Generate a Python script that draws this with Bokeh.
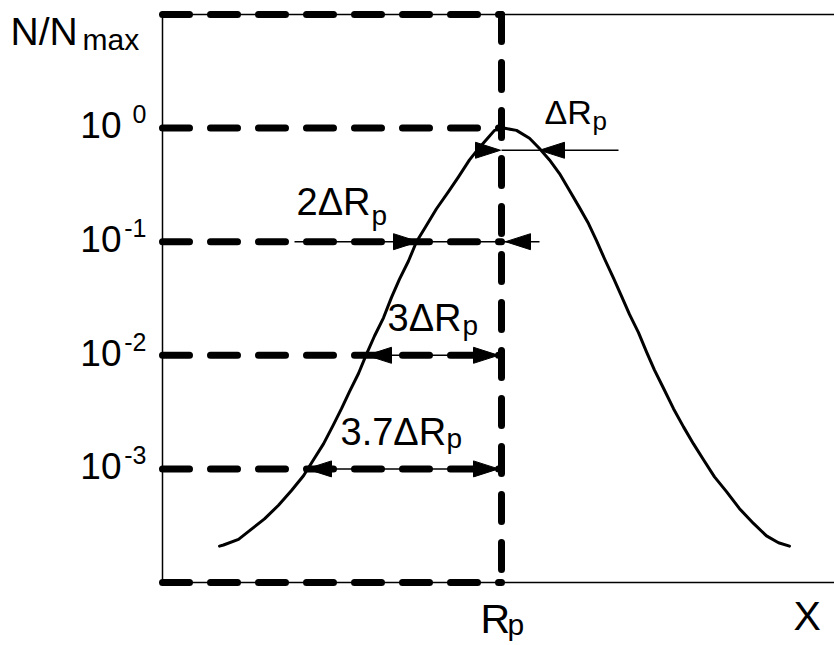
from bokeh.plotting import figure
from bokeh.models import Range1d
from bokeh.core.properties import value
from bokeh.embed import file_html
from bokeh.resources import INLINE

# Implanted-ion depth profile: depth measured from the projected range Rp
# (arbitrary units) and the concentration as log10(N/Nmax).
depth = [-2.82, -2.78, -2.63, -2.50, -2.37, -2.23, -2.10, -1.98, -1.88, -1.78,
         -1.68, -1.60, -1.52, -1.43, -1.35, -1.27, -1.18, -1.10, -1.02, -0.93,
         -0.85, -0.76, -0.65, -0.53, -0.43, -0.32, -0.22, -0.13, -0.07, 0.02,
         0.15, 0.28, 0.38, 0.48, 0.58, 0.68, 0.78, 0.87, 0.95, 1.03,
         1.12, 1.20, 1.28, 1.37, 1.45, 1.53, 1.62, 1.72, 1.82, 1.92,
         2.02, 2.13, 2.25, 2.38, 2.52, 2.65, 2.77, 2.88]
log_conc = [-3.68, -3.67, -3.62, -3.53, -3.44, -3.32, -3.19, -3.06, -2.92, -2.78,
            -2.61, -2.47, -2.32, -2.16, -1.99, -1.83, -1.67, -1.49, -1.33, -1.17,
            -1.00, -0.87, -0.71, -0.56, -0.43, -0.28, -0.17, -0.08, -0.02, 0.00,
            -0.02, -0.09, -0.18, -0.28, -0.40, -0.55, -0.70, -0.84, -0.99, -1.15,
            -1.32, -1.48, -1.64, -1.80, -1.97, -2.13, -2.29, -2.47, -2.63, -2.78,
            -2.92, -3.07, -3.20, -3.35, -3.48, -3.59, -3.65, -3.68]

# Decades of the concentration axis (box top .. box bottom) and labelled ones
decades = [1, 0, -1, -2, -3, -4]
tick_decades = [0, -1, -2, -3]
tick_exponents = ["0", "-1", "-2", "-3"]

# Width markers: level (log10 N/Nmax), extent of the thin dimension line,
# and arrow tips with their pointing direction (+1 right, -1 left)
dim_text = ["\u0394R", "2\u0394R", "3\u0394R", "3.7\u0394R"]
dim_level = [-0.195, -1.0, -2.0, -3.0]
dim_line_start = [0.0, -2.07, -1.35, -1.95]
dim_line_end = [1.17, 0.38, 0.0, 0.0]
dim_tips = [[(-0.01, 1), (0.38, -1)],
            [(-0.83, 1), (0.04, -1)],
            [(-1.35, -1), (-0.03, 1)],
            [(-1.95, -1), (-0.03, 1)]]

X_LEFT = -3.39          # left edge of the plot box
RP = 0.0                # projected range

# ---- canvas geometry -------------------------------------------------------
W, H = 834, 645
PX_PER_UNIT = 100.0
RP_PX = 501.0
TOP_PX, BOT_PX = 14.0, 582.0
px_per_dec = (BOT_PX - TOP_PX) / (decades[0] - decades[-1])

x_lo = -RP_PX / PX_PER_UNIT
x_hi = (W - RP_PX) / PX_PER_UNIT
lg_hi = decades[0] + TOP_PX / px_per_dec
lg_lo = decades[-1] - (H - BOT_PX) / px_per_dec

FONT = value("Liberation Sans")
THICK = 7
THIN = 1.5
DASH = "27 21"
ARROW_LEN_PX = 25
ARROW_HALF_PX = 8
BASELINE_SHIFT = 0.41   # em correction so offsets refer to the glyph baseline

p = figure(width=W, height=H,
           x_range=Range1d(x_lo, x_hi),
           y_range=Range1d(10 ** lg_lo, 10 ** lg_hi),
           y_axis_type="log",
           x_axis_location=None, y_axis_location=None,
           title_location=None,
           toolbar_location=None, output_backend="svg",
           min_border=0, outline_line_color=None,
           background_fill_color="white", border_fill_color="white")
p.grid.visible = False

top_val = 10.0 ** decades[0]
bot_val = 10.0 ** decades[-1]

# thin frame of the box
p.multi_line(xs=[[X_LEFT, X_LEFT], [X_LEFT, x_hi], [X_LEFT, x_hi]],
             ys=[[bot_val, top_val], [top_val, top_val], [bot_val, bot_val]],
             line_color="black", line_width=THIN)

# thin dimension lines
p.multi_line(xs=[[a, b] for a, b in zip(dim_line_start, dim_line_end)],
             ys=[[10 ** lv, 10 ** lv] for lv in dim_level],
             line_color="black", line_width=THIN)

# concentration profile
p.line(depth, [10 ** v for v in log_conc],
       line_color="black", line_width=3, line_join="round", line_cap="round")

# heavy dashed guides: decades up to Rp and the vertical at Rp
p.multi_line(xs=[[X_LEFT, RP] for _ in decades],
             ys=[[10.0 ** d, 10.0 ** d] for d in decades],
             line_color="black", line_width=THICK, line_dash=DASH,
             line_cap="round")
p.line([RP, RP], [top_val, bot_val], line_color="black", line_width=THICK,
       line_dash=DASH, line_cap="round")

# arrow heads
head_len = ARROW_LEN_PX / PX_PER_UNIT
head_half = ARROW_HALF_PX / px_per_dec
hx, hy = [], []
for lv, tips in zip(dim_level, dim_tips):
    for tip, d in tips:
        hx.append([tip, tip - d * head_len, tip - d * head_len])
        hy.append([10 ** lv, 10 ** (lv + head_half), 10 ** (lv - head_half)])
p.patches(hx, hy, fill_color="black", line_color="black", line_width=1)


def put(x, lg, text, size, dx, dy, align="left"):
    """Place text so that its baseline sits dy px below the anchor."""
    p.text(x=[x], y=[10 ** lg], text=[text], text_font=FONT,
           text_font_size=f"{size}px", text_color="black",
           text_align=align, text_baseline="alphabetic",
           x_offset=dx, y_offset=dy - BASELINE_SHIFT * size)


# axis title
put(X_LEFT, decades[0], "N/N", 39, -152, 33)
put(X_LEFT, decades[0], "max", 30, -80, 37)

# decade labels 10^n
for dec, ex in zip(tick_decades, tick_exponents):
    put(X_LEFT, dec, "10", 37, -41, 12.5, "right")
    put(X_LEFT, dec, ex, 25, -16, -3.5, "right")

# width labels
dim_anchor = [0.38, -0.83, -1.35, -1.95]
dim_main = [(34, 5, -24), (38, -122, -24), (38, 21, -22), (38, 34, -21)]
dim_sub = [(26, 53, -19), (28, -47, -15), (28, 96, -18), (28, 140, -19)]
for t, lv, ax, (ms, mdx, mdy), (ss, sdx, sdy) in zip(dim_text, dim_level, dim_anchor,
                                                     dim_main, dim_sub):
    put(ax, lv, t, ms, mdx, mdy)
    put(ax, lv, "p", ss, sdx, sdy)

# Rp and X under the box
put(RP, decades[-1], "R", 41, -21, 53)
put(RP, decades[-1], "p", 30, 6, 54)
put(3.0, decades[-1], "X", 41, -8, 50)

open("out.html", "w").write(file_html(p, INLINE))
